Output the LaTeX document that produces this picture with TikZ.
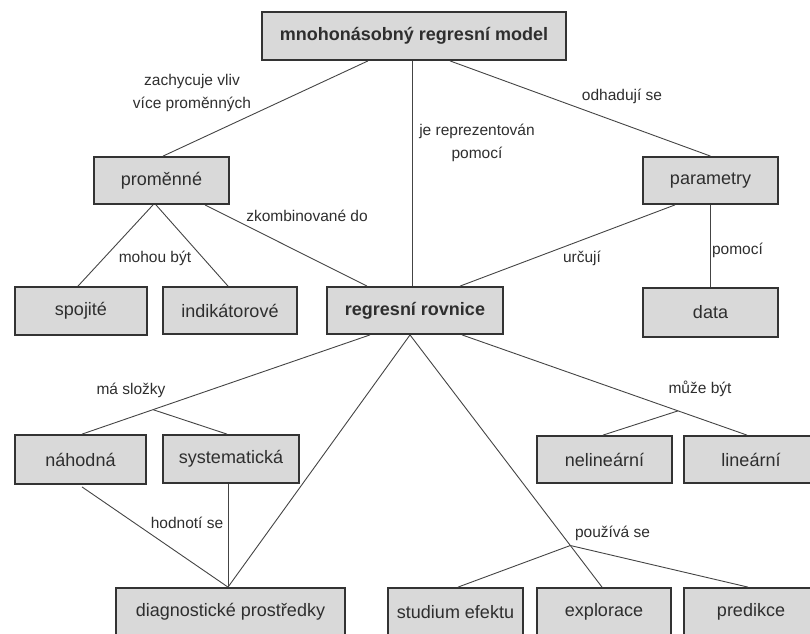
\documentclass[tikz,border=0pt]{standalone}
\usepackage{fontspec}
\setmainfont{Liberation Sans}
\usetikzlibrary{calc}
\definecolor{boxfill}{HTML}{D9D9D9}
\definecolor{boxline}{HTML}{333333}
\definecolor{linkcol}{HTML}{444444}
\definecolor{txt}{HTML}{2E2E2E}
\tikzset{
  concept/.style={draw=boxline, line width=1.8pt, fill=boxfill, inner sep=0pt,
    minimum height=47pt, text=txt, font=\fontsize{18}{21}\selectfont},
  keyconcept/.style={concept, font=\fontsize{18}{21}\selectfont\bfseries},
  link/.style={draw=linkcol, line width=0.9pt},
  linklabel/.style={text=txt, inner sep=0pt, align=center, font=\fontsize{15.5}{23.5}\selectfont}
}
\begin{document}
\begin{tikzpicture}[x=1pt,y=-1pt]
\useasboundingbox (0,0) rectangle (810,633);
\clip (0,0) rectangle (810,633);
% boxes
\node[keyconcept, minimum width=304pt, minimum height=48pt] (top) at (414,36) {mnohonásobný regresní model};
\node[concept, minimum width=135pt] (prom) at (161.5,180.5) {proměnné};
\node[concept, minimum width=135pt] (param) at (710.5,180.5) {parametry};
\node[concept, minimum width=132pt, minimum height=48pt] (spoj) at (81,311) {spojité};
\node[concept, minimum width=134pt] (indik) at (230,310.5) {indikátorové};
\node[keyconcept, minimum width=176pt] (rr) at (415,310.5) {regresní rovnice};
\node[concept, minimum width=135pt, minimum height=49pt] (data) at (710.5,312.5) {data};
\node[concept, minimum width=131pt, minimum height=49pt] (nah) at (80.5,459.5) {náhodná};
\node[concept, minimum width=136pt, minimum height=48pt] (sys) at (231,459) {systematická};
\node[concept, minimum width=135pt] (nelin) at (604.5,459.5) {nelineární};
\node[concept, minimum width=134pt] (lin) at (751,459.5) {lineární};
\node[concept, minimum width=229pt, minimum height=48pt] (diag) at (230.5,612) {diagnostické prostředky};
\node[concept, minimum width=135pt, minimum height=48pt] (stud) at (455.5,612) {studium efektu};
\node[concept, minimum width=134pt, minimum height=48pt] (expl) at (604,612) {explorace};
\node[concept, minimum width=134pt, minimum height=48pt] (pred) at (751,612) {predikce};
% connectors
\path[link] ([xshift=-46pt]top.south) -- ([xshift=1.5pt]prom.north);
\path[link] ([xshift=-2pt]top.south) -- ([xshift=-3pt]rr.north);
\path[link] ([xshift=36pt]top.south) -- (param.north);
\path[link] ([xshift=-8.5pt]prom.south) -- ([xshift=-3pt]spoj.north);
\path[link] ([xshift=-5.5pt]prom.south) -- ([xshift=-2pt]indik.north);
\path[link] ([xshift=43.5pt]prom.south) -- ([xshift=-48pt]rr.north);
\path[link] ([xshift=-35.5pt]param.south) -- ([xshift=45pt]rr.north);
\path[link] (param.south) -- (data.north);
\path[link] ([xshift=-45pt]rr.south) -- coordinate[pos=0.7535] (j1) ([xshift=1.5pt]nah.north);
\path[link] (j1) -- ([xshift=-4pt]sys.north);
\path[link] ([xshift=-5pt]rr.south) -- ([xshift=-2.5pt]diag.north);
\path[link] ([xshift=1.5pt,yshift=-2pt]nah.south) -- ([xshift=-2.5pt]diag.north);
\path[link] ([xshift=-3pt]sys.south) -- ([xshift=-2.5pt]diag.north);
\path[link] ([xshift=-5pt]rr.south) -- coordinate[pos=0.835] (j2) ([xshift=-2pt]expl.north);
\path[link] (j2) -- ([xshift=2.5pt]stud.north);
\path[link] (j2) -- ([xshift=-3pt]pred.north);
\path[link] ([xshift=47pt]rr.south) -- coordinate[pos=0.758] (j3) ([xshift=-4pt]lin.north);
\path[link] (j3) -- ([xshift=-1.5pt]nelin.north);
% labels
\node[linklabel] (l1) at (192,93) {zachycuje vliv\\více proměnných};
\node[linklabel] (l2) at (477,143) {je reprezentován\\pomocí};
\node[linklabel] (l3) at (622,96) {odhadují se};
\node[linklabel] (l4) at (155,258) {mohou být};
\node[linklabel] (l5) at (307,216) {zkombinované do};
\node[linklabel] (l6) at (582,258) {určují};
\node[linklabel] (l7) at (737.5,250) {pomocí};
\node[linklabel] (l8) at (131,390) {má složky};
\node[linklabel] (l9) at (187,523) {hodnotí se};
\node[linklabel] (l10) at (700,389) {může být};
\node[linklabel] (l11) at (612.5,533) {používá se};
\end{tikzpicture}
\end{document}
